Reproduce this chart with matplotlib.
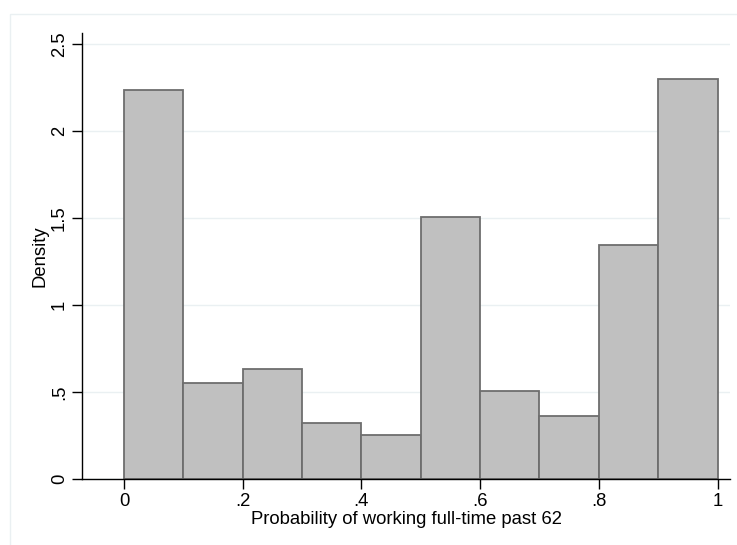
import matplotlib
matplotlib.use("Agg")
import matplotlib.pyplot as plt
from matplotlib.patches import Rectangle

# histogram bins (width .1) and density heights
bin_edges = [0.0, 0.1, 0.2, 0.3, 0.4, 0.5, 0.6, 0.7, 0.8, 0.9, 1.0]
density = [2.236, 0.553, 0.630, 0.324, 0.251, 1.507, 0.506, 0.362, 1.345, 2.299]

xticks = [0, 0.2, 0.4, 0.6, 0.8, 1.0]
xtick_labels = ["0", ".2", ".4", ".6", ".8", "1"]
yticks = [0, 0.5, 1.0, 1.5, 2.0, 2.5]
ytick_labels = ["0", ".5", "1", "1.5", "2", "2.5"]

plt.rcParams["font.family"] = ["Liberation Sans", "DejaVu Sans"]
FS = 13.3

fig = plt.figure(figsize=(7.37, 5.45), dpi=100)
# faint outer graph-region border (only left/top edges fall inside the image)
fig.patches.append(Rectangle((10 / 737, -0.1), 1.2, 1.1 - 14 / 545, transform=fig.transFigure,
                             fill=False, edgecolor="#eaf0f2", linewidth=1.0))
ax = fig.add_axes([82 / 737, 1 - 479 / 545, (730 - 82) / 737, (479 - 33) / 545])

lefts = bin_edges[:-1]
widths = [b - a for a, b in zip(bin_edges[:-1], bin_edges[1:])]
ax.bar(lefts, density, width=widths, align="edge", color="#c0c0c0",
       edgecolor="#6e6e6e", linewidth=1.3, zorder=2)

ax.set_xlim(-0.0708, 1.021)
ax.set_ylim(0, 2.563)
ax.set_xticks(xticks)
ax.set_xticklabels(xtick_labels)
ax.set_yticks(yticks)
ax.set_yticklabels(ytick_labels, rotation=90, va="center")
ax.grid(axis="y", color="#eaf0f2", linewidth=1.0, zorder=0)
ax.set_axisbelow(True)

for s in ("top", "right"):
    ax.spines[s].set_visible(False)
for s in ("left", "bottom"):
    ax.spines[s].set_color("black")
    ax.spines[s].set_linewidth(1.0)
ax.tick_params(direction="out", length=7, width=1.0, labelsize=FS, pad=3)

ax.set_xlabel("Probability of working full-time past 62", fontsize=FS, labelpad=1)
ax.set_ylabel("Density", fontsize=FS, labelpad=2)

fig.savefig("out.png", dpi=100)
